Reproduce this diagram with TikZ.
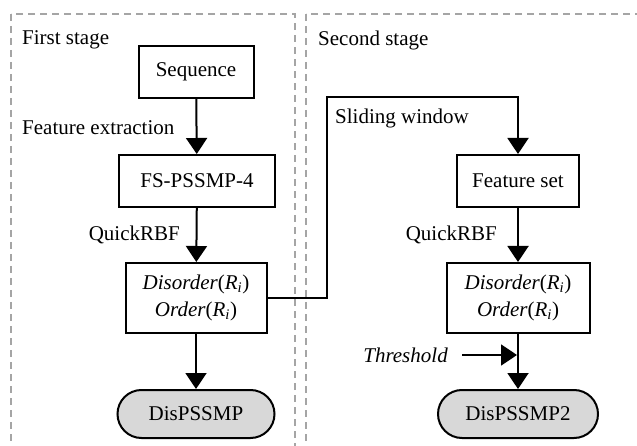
\documentclass[tikz,border=0pt]{standalone}
\usepackage{fontspec}
\setmainfont{Liberation Serif}
\usetikzlibrary{arrows.meta,positioning,shapes.misc}
\definecolor{stagegray}{RGB}{165,165,165}
\definecolor{termgray}{RGB}{216,216,216}
\tikzset{
  stage/.style={draw=stagegray, line width=1.5pt, dash pattern=on 7pt off 5pt},
  block/.style={draw, line width=2pt, minimum height=52pt, inner sep=0pt},
  term/.style={rounded rectangle, draw, fill=termgray, line width=2pt, minimum height=48pt, inner sep=0pt},
  lbl/.style={inner sep=0pt},
  flow/.style={line width=2pt, -{Triangle[width=21pt,length=16pt]}}
}
\begin{document}
\begin{tikzpicture}[x=1pt,y=-1pt,font=\fontsize{21}{27}\selectfont]
    \useasboundingbox (0,0) rectangle (637,446);
    \clip (0,0) rectangle (637,446);
    \draw[stage] (11,14) rectangle (295,480);
    \draw[stage] (306,14) rectangle (680,480);

    % first stage
    \node[lbl, anchor=west] (lab1) at (22,40) {First stage};
    \node[block, minimum width=115pt] (seq) at (196,72) {Sequence};
    \node[lbl, anchor=west] (fext) at (22,128) {Feature extraction};
    \node[block, minimum width=156pt] (fs) at (197,181) {FS-PSSMP-4};
    \node[lbl, anchor=east] (qr1) at (180,235) {QuickRBF};
    \node[block, minimum width=141pt, minimum height=70pt, align=center] (dis1) at (196,298)
        {\textit{Disorder}(\textit{R}\textsubscript{\textit{i}})\\\textit{Order}(\textit{R}\textsubscript{\textit{i}})};
    \node[term, minimum width=157pt] (out1) at (196,414) {DisPSSMP};

    % second stage
    \node[lbl, anchor=west] (lab2) at (318,40) {Second stage};
    \node[lbl, anchor=west] (slide) at (335,118) {Sliding window};
    \node[block, minimum width=122pt] (feat) at (518,181) {Feature set};
    \node[lbl, anchor=east] (qr2) at (497,235) {QuickRBF};
    \node[block, minimum width=143pt, minimum height=70pt, align=center] (dis2) at (518,298)
        {\textit{Disorder}(\textit{R}\textsubscript{\textit{i}})\\\textit{Order}(\textit{R}\textsubscript{\textit{i}})};
    \node[lbl, anchor=east] (thr) at (448,355) {\textit{Threshold}};
    \node[term, minimum width=160pt] (out2) at (518,414) {DisPSSMP2};
    \coordinate (turn) at (327,97);
    \coordinate (thrin) at (517,355);

    \draw[flow] (seq) -- (fs);
    \draw[flow] (fs) -- (dis1);
    \draw[flow] (dis1) -- (out1);
    \draw[flow] (dis1.east) -| (turn) -| (feat.north);
    \draw[flow] (feat) -- (dis2);
    \draw[flow] (dis2) -- (out2);
    \draw[flow, shorten <=14pt] (thr.east) -- (thrin);
\end{tikzpicture}
\end{document}
